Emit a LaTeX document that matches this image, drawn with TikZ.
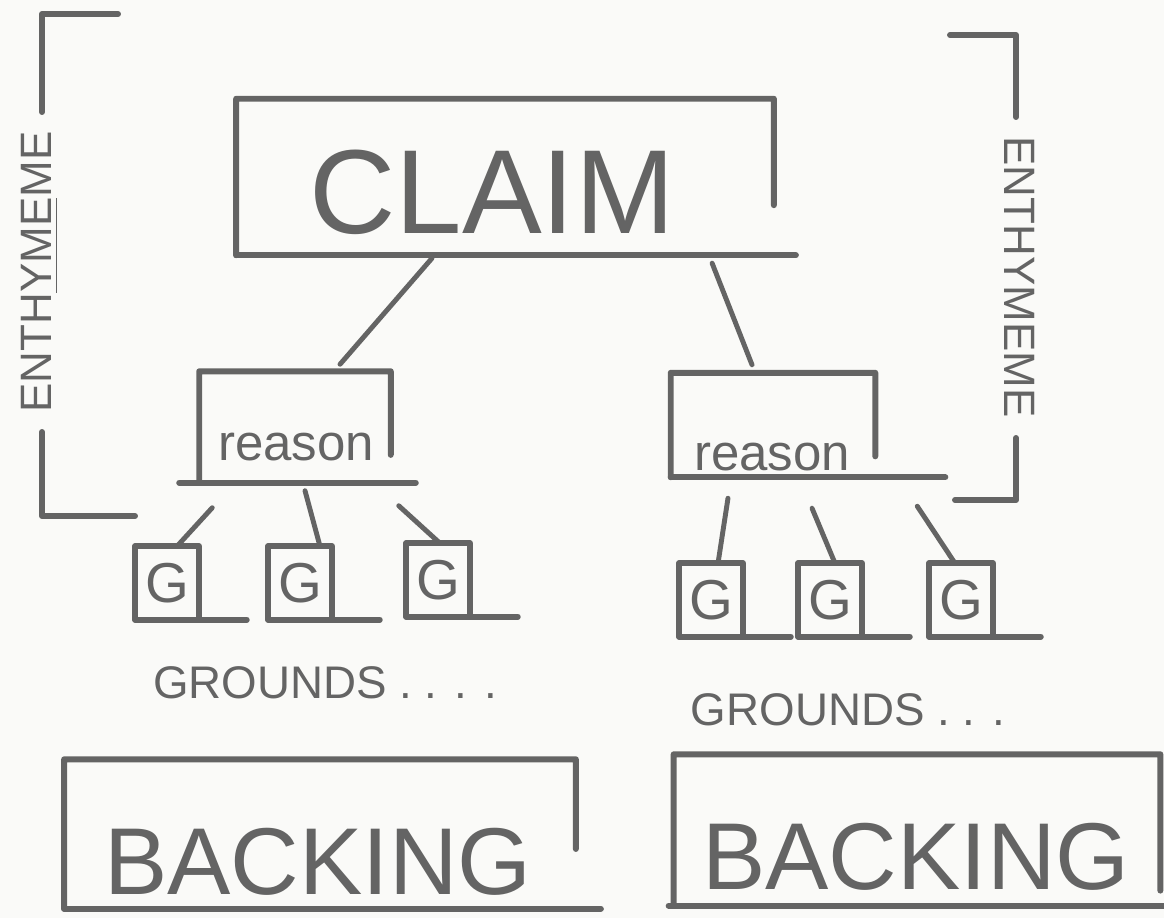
\documentclass[tikz,border=0pt]{standalone}
\usepackage{fontspec}
\setmainfont{Liberation Sans}
\usetikzlibrary{calc}
\definecolor{ink}{RGB}{100,100,100}
\definecolor{paper}{RGB}{250,250,248}
\tikzset{
  pen/.style={draw=ink, line width=1.7pt, line cap=round, line join=round},
  link/.style={draw=ink, line width=1.4pt, line cap=round},
  frame/.style={inner sep=0pt, text=ink},
  word/.style={text=ink, inner sep=1pt},
  gbox/.style={frame, minimum width=0.62cm, minimum height=0.72cm, font=\fontsize{16}{18}\selectfont},
}
\begin{document}
\begin{tikzpicture}[x=0.01cm,y=-0.01cm]
\fill[paper] (0,0) rectangle (1164,918);
\useasboundingbox (0,0) rectangle (1164,918);

% boxes
\node[frame, minimum width=5.36cm, minimum height=1.55cm] (claim) at (505,177) {};
\node[word, font=\fontsize{34}{40}\selectfont] (claimtxt) at (492,192) {CLAIM};
\node[frame, minimum width=1.9cm, minimum height=1.1cm] (rsnL) at (295,427) {};
\node[word, font=\fontsize{14.5}{18}\selectfont] (rsnLtxt) at (296,447) {reason};
\node[frame, minimum width=2.03cm, minimum height=1.03cm] (rsnR) at (773,425) {};
\node[word, font=\fontsize{14.5}{18}\selectfont] (rsnRtxt) at (772,457) {reason};
\node[frame, minimum width=5.1cm, minimum height=1.48cm] (backL) at (320,834) {};
\node[word, font=\fontsize{27}{32}\selectfont] (backLtxt) at (318,862) {BACKING};
\node[frame, minimum width=4.85cm, minimum height=1.5cm] (backR) at (917,830) {};
\node[word, font=\fontsize{27}{32}\selectfont] (backRtxt) at (916,857) {BACKING};

\foreach \n/\f/\l/\r in {claim/0.68/0cm/0.22cm, rsnL/0.75/0.2cm/0.25cm,
    rsnR/0.8/0cm/0.7cm, backL/0.6/0cm/0.25cm, backR/0.9/0.05cm/0.04cm}{
  \draw[pen] (\n.south west) -- (\n.north west) -- (\n.north east)
    -- ($(\n.north east)!\f!(\n.south east)$);
  \draw[pen] ([xshift=-\l]\n.south west) -- ([xshift=\r]\n.south east);
}

% grounds
\foreach \g/\x/\y in {gL1/167/583, gL2/300/583, gL3/438/580,
    gR1/711/600, gR2/830/600, gR3/961/600}{
  \node[gbox] (\g) at (\x,\y) {G};
  \draw[pen] (\g.south west) -- (\g.north west) -- (\g.north east) -- (\g.south east);
  \draw[pen] (\g.south west) -- ([xshift=0.48cm]\g.south east);
}
\node[word, font=\fontsize{13}{16}\selectfont] (grdL) at (325,683) {GROUNDS . . . .};
\node[word, font=\fontsize{13}{16}\selectfont] (grdR) at (848,710) {GROUNDS . . .};

% links
\draw[link] ([xshift=-0.73cm,yshift=-0.03cm]claim.south) -- ([xshift=0.45cm,yshift=0.07cm]rsnL.north);
\draw[link] ([xshift=2.07cm,yshift=-0.08cm]claim.south) -- ([xshift=-0.21cm,yshift=0.08cm]rsnR.north);
\draw[link] ([xshift=0.13cm,yshift=-0.25cm]rsnL.south west) -- ([xshift=0.1cm]gL1.north);
\draw[link] ([xshift=0.1cm,yshift=-0.08cm]rsnL.south) -- ([xshift=0.2cm]gL2.north);
\draw[link] ([xshift=0.08cm,yshift=-0.23cm]rsnL.south east) -- ([xshift=0.02cm]gL3.north);
\draw[link] ([xshift=-0.45cm,yshift=-0.21cm]rsnR.south) -- ([xshift=0.07cm]gR1.north);
\draw[link] ([xshift=0.39cm,yshift=-0.31cm]rsnR.south) -- ([xshift=0.05cm]gR2.north);
\draw[link] ([xshift=0.42cm,yshift=-0.29cm]rsnR.south east) -- ([xshift=-0.06cm]gR3.north);

% enthymeme brackets
\node[word, rotate=90, font=\fontsize{12.5}{16}\selectfont] (enthL) at (40,272) {ENTH\underline{YME}ME};
\draw[pen] (118,14) -- (42,14) -- (42,112);
\draw[pen] (42,432) -- (42,516) -- (135,516);
\node[word, rotate=-90, font=\fontsize{12.5}{16}\selectfont] (enthR) at (1020,277) {ENTHYMEME};
\draw[pen] (950,35) -- (1016,35) -- (1016,117);
\draw[pen] (1016,438) -- (1016,500) -- (955,500);
\end{tikzpicture}
\end{document}
